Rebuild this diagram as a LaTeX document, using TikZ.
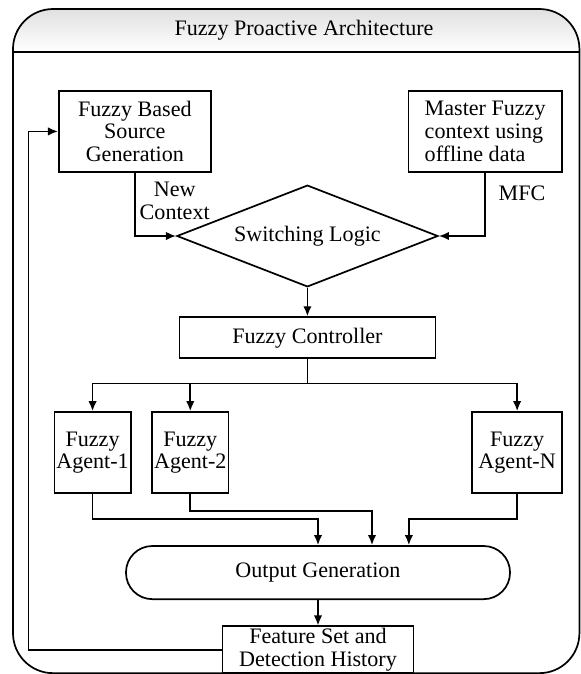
\documentclass[tikz,border=0pt]{standalone}
\usepackage{fontspec}
\setmainfont{Liberation Serif}
\usetikzlibrary{shapes,arrows.meta}

\begin{document}
\begin{tikzpicture}[node distance = 1.5cm, auto, line width=0.85pt,
    font=\fontsize{11}{11.3}\selectfont]
  \tikzstyle{frame} = [draw, rounded corners=0.7cm]
  \tikzstyle{decision} = [diamond, draw, aspect=2.5, text centered,
    inner sep=0pt, minimum width=4.57cm, minimum height=1.78cm]
  \tikzstyle{block} = [rectangle, draw, align=center, inner sep=1pt,
    minimum height=1.42cm]
  \tikzstyle{agent} = [block, minimum width=1.31cm]
  \tikzstyle{terminator} = [rectangle, draw, rounded corners=0.46cm,
    minimum width=6.72cm, minimum height=0.93cm]
  \tikzstyle{line} = [draw, -{Latex[length=5pt,width=4.2pt]}]

  \useasboundingbox (0,0) rectangle (10.1675,-11.795);

  % Outer frame
  \shade [top color=black!12, bottom color=white] (0.2275,-0.91)
    [rounded corners=0.7cm] -- (0.2275,-0.1575) -- (10.14,-0.1575)
    [sharp corners] -- (10.14,-0.91) -- cycle;
  \draw [frame] (0.2275,-0.1575) rectangle (10.14,-11.78);
  \draw (0.2275,-0.91) -- (10.14,-0.91);

  % Place nodes
  \node (title) at (5.32,-0.525) {Fuzzy Proactive Architecture};
  \node [block, minimum width=2.66cm] (src) at (2.36,-2.30) {Fuzzy Based\\Source\\Generation};
  \node [block, minimum width=2.68cm, align=left, right of=src, node distance=6.13cm] (mfc) {Master Fuzzy\\context using\\offline data};
  \node [decision] (logic) at (5.38,-4.13) {Switching Logic};
  \node [block, minimum width=4.48cm, minimum height=0.72cm, below of=logic, node distance=1.78cm] (ctrl) {Fuzzy Controller};
  \coordinate [below of=ctrl, node distance=0.80cm] (fork);
  \node [agent] (agent1) at (1.62,-7.92) {Fuzzy\\Agent-1};
  \node [agent, right of=agent1, node distance=1.71cm] (agent2) {Fuzzy\\Agent-2};
  \node [agent, minimum width=1.575cm, right of=agent2, node distance=5.72cm] (agentN) {Fuzzy\\Agent-N};
  \node [terminator] (output) at (5.565,-10.02) {Output Generation};
  \node [block, minimum width=3.34cm, minimum height=0.79cm, below of=output, node distance=1.35cm] (feature) {Feature Set and\\Detection History};

  % Draw edges
  \path [line] (src) |- node [pos=0.22, right, align=center, inner sep=2pt] {New\\Context} (logic);
  \path [line] (mfc) |- node [pos=0.16, right=3pt] {MFC} (logic);
  \path [line] (logic) -- (ctrl);

  \draw (ctrl) -- (fork);
  \path [line] (fork) -| (agent1);
  \path [line] (fork) -| (agent2);
  \path [line] (fork) -| (agentN);

  \path [line] (agent1.south) -- ++(0,-0.44) -| (output.north);
  \path [line] (agent2.south) -- ++(0,-0.30) -| ([xshift=0.945cm]output.north);
  \path [line] (agentN.south) -- ++(0,-0.44) -| ([xshift=1.59cm]output.north);

  \path [line] (output) -- (feature);
  \path [line] (feature.west) -- ++(-3.38,0) |- (src.west);
\end{tikzpicture}
\end{document}
